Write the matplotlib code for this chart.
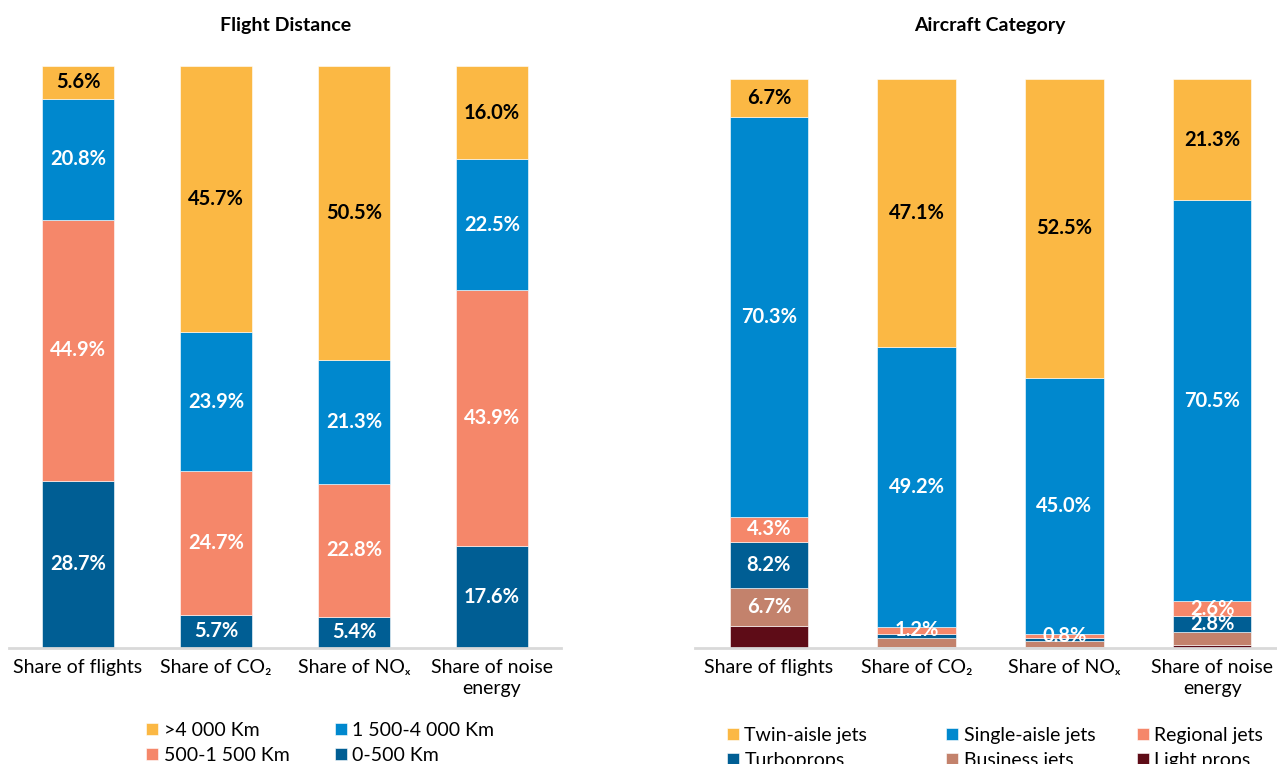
"""
Shares of flights, CO2, NOx and noise energy split by flight distance band
and by aircraft category, drawn as two panels of 100% stacked bars.
"""

import matplotlib.pyplot as plt
import numpy as np

# Data
# ------------------------------------------------------------------------------

metrics = ['Share of flights', 'Share of CO\u2082', 'Share of NO\u2093',
           'Share of noise\nenergy']

# flight distance bands, bottom to top
dist_bands = ['0-500 Km', '500-1 500 Km', '1 500-4 000 Km', '>4 000 Km']
dist_0_500 = [28.7, 5.7, 5.4, 17.6]
dist_500_1500 = [44.9, 24.7, 22.8, 43.9]
dist_1500_4000 = [20.8, 23.9, 21.3, 22.5]
dist_4000 = [5.6, 45.7, 50.5, 16.0]

# aircraft categories, bottom to top
cat_names = ['Light props', 'Business jets', 'Turboprops', 'Regional jets',
             'Single-aisle jets', 'Twin-aisle jets']
light_props = [3.8, 0.2, 0.1, 0.5]
business_jets = [6.7, 1.5, 1.1, 2.3]
turboprops = [8.2, 0.8, 0.5, 2.8]
regional_jets = [4.3, 1.2, 0.8, 2.6]
single_aisle = [70.3, 49.2, 45.0, 70.5]
twin_aisle = [6.7, 47.1, 52.5, 21.3]

# Plot
# ------------------------------------------------------------------------------

plt.rcParams['font.family'] = ['Lato', 'DejaVu Sans']

yellow = '#FBB844'
blue = '#0088CE'
salmon = '#F5876A'
navy = '#005E94'
tan = '#C3826C'
maroon = '#5E0C17'

W, H = 1277, 764
fig = plt.figure(figsize=(W / 100, H / 100), dpi=100)
ax1 = fig.add_axes([9 / W, 116 / H, 552 / W, 582 / H])
ax2 = fig.add_axes([695 / W, 116 / H, 591 / W, 569 / H])

x = np.arange(len(metrics))


def stack(ax, names, series, colors, width, hide):
    bottom = np.zeros(len(metrics))
    handles = {}
    for name, vals, c in zip(names, series, colors):
        vals = np.array(vals)
        bars = ax.bar(x, vals, width, bottom=bottom, color=c,
                      edgecolor='white', linewidth=0.4, label=name)
        handles[name] = bars
        txt_c = 'black' if c == yellow else 'white'
        for xi, v, b in zip(x, vals, bottom):
            if hide(name, v):
                continue
            ax.text(xi, b + v / 2, f'{v:.1f}%', ha='center', va='center',
                    color=txt_c, fontsize=14.5, fontweight='bold')
        bottom += vals
    ax.set_xlim(-0.5, len(metrics) - 0.5)
    ax.set_ylim(0, 100)
    ax.set_xticks(x)
    ax.set_xticklabels(metrics, fontsize=14, linespacing=1.25)
    ax.tick_params(axis='x', length=0, pad=8)
    ax.set_yticks([])
    for s in ['top', 'left', 'right']:
        ax.spines[s].set_visible(False)
    ax.spines['bottom'].set_color('#D9D9D9')
    ax.spines['bottom'].set_linewidth(2)
    return handles


h1 = stack(ax1, dist_bands,
           [dist_0_500, dist_500_1500, dist_1500_4000, dist_4000],
           [navy, salmon, blue, yellow], 0.52,
           lambda name, v: False)

h2 = stack(ax2, cat_names,
           [light_props, business_jets, turboprops, regional_jets,
            single_aisle, twin_aisle],
           [maroon, tan, navy, salmon, blue, yellow], 0.53,
           lambda name, v: name == 'Light props'
           or (name == 'Business jets' and v < 5)
           or (name == 'Turboprops' and v < 2))

fig.text(286 / W, 1 - 26 / H, 'Flight Distance', ha='center',
         va='center', fontsize=14, fontweight='bold')
fig.text(990 / W, 1 - 26 / H, 'Aircraft Category', ha='center',
         va='center', fontsize=14, fontweight='bold')


# one small legend per column so each column sits where it should
def legend_column(handles, names, x0, y0):
    fig.legend([handles[n] for n in names], names, frameon=False,
               fontsize=14, loc='upper left', bbox_to_anchor=(x0 / W, 1 - y0 / H),
               handlelength=0.6, handleheight=0.6, handletextpad=0.3,
               labelspacing=0.4, borderpad=0, borderaxespad=0)


legend_column(h1, ['>4 000 Km', '500-1 500 Km'], 146, 722)
legend_column(h1, ['1 500-4 000 Km', '0-500 Km'], 335, 722)
legend_column(h2, ['Twin-aisle jets', 'Turboprops'], 727, 727)
legend_column(h2, ['Single-aisle jets', 'Business jets'], 946, 727)
legend_column(h2, ['Regional jets', 'Light props'], 1137, 727)

fig.savefig('out.png', dpi=100)
